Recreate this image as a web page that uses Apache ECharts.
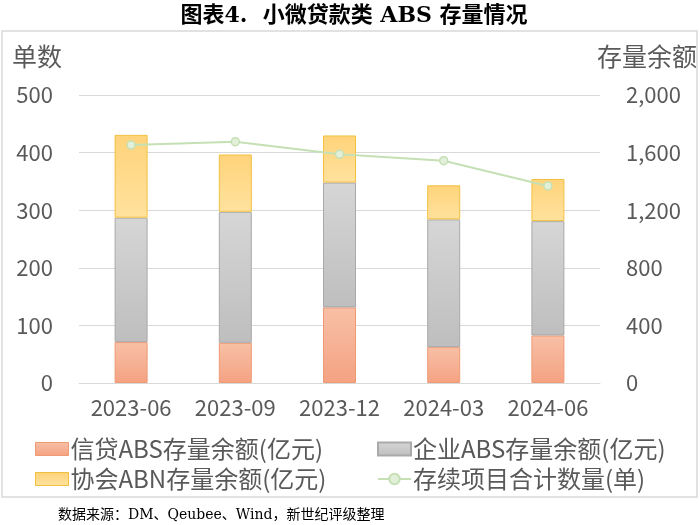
<!DOCTYPE html>
<html><head><meta charset="utf-8">
<script src="https://cdn.jsdelivr.net/npm/echarts@6/dist/echarts.min.js"></script>
<style>html,body{margin:0;padding:0;background:#fff}#c{width:700px;height:525px}</style>
</head><body><div id="c"></div>
<script>
var categories = ['2023-06','2023-09','2023-12','2024-03','2024-06'];
var creditABS = [284, 279, 525, 249, 330];
var corpABS = [864, 910, 867, 887, 794];
var assocABN = [575, 398, 327, 237, 293];
var dealCount = [413, 419, 397, 386, 342];
var leftTicks = {min:0, max:500, interval:100};
var rightTicks = {min:0, max:2000, interval:400};

var font = '"Noto Sans CJK SC", "Noto Sans", sans-serif';
var serif = '"DejaVu Serif", "Noto Sans CJK SC", serif';
function grad(top, bottom){
  return new echarts.graphic.LinearGradient(0,0,0,1,[{offset:0,color:top},{offset:1,color:bottom}]);
}
var chart = echarts.init(document.getElementById('c'));
chart.setOption({
  animation:false,
  backgroundColor:'#fff',
  title:{text:'图表4.  小微贷款类 ABS 存量情况', left:349, textAlign:'center', top:0,
    textStyle:{fontFamily:serif, fontSize:22, fontWeight:'bold', color:'#000'}},
  graphic:[
    {type:'rect', shape:{x:2,y:31,width:695,height:466}, style:{fill:'none', stroke:'#D9D9D9', lineWidth:1.5}, silent:true},
    {type:'text', left:58, top:508, style:{text:'数据来源：DM、Qeubee、Wind，新世纪评级整理', font:'14px ' + serif, fill:'#000'}}
  ],
  grid:{left:79, right:100, top:95, bottom:142},
  legend:[
    {left:30, top:432, orient:'vertical', itemGap:6, itemWidth:33, itemHeight:13, itemStyle:{borderWidth:1},
     textStyle:{fontFamily:font, fontSize:24, color:'#595959', padding:[0,0,0,-3]},
     data:[{name:'信贷ABS存量余额(亿元)', icon:'rect'},{name:'协会ABN存量余额(亿元)', icon:'rect'}]},
    {left:372, top:432, orient:'vertical', itemGap:6, itemWidth:33, itemHeight:13,
     textStyle:{fontFamily:font, fontSize:24, color:'#595959', padding:[0,0,0,-3]},
     data:[{name:'企业ABS存量余额(亿元)', icon:'rect'},'存续项目合计数量(单)']}
  ],
  xAxis:{type:'category', data:categories,
    axisLine:{lineStyle:{color:'#D9D9D9'}}, axisTick:{show:false},
    axisLabel:{fontFamily:font, fontSize:22, color:'#595959', margin:14, interval:0}},
  yAxis:[
    {type:'value', min:leftTicks.min, max:leftTicks.max, interval:leftTicks.interval,
     name:'单数', nameLocation:'end', nameGap:26,
     nameTextStyle:{fontFamily:font, fontSize:25, color:'#595959', align:'left', padding:[0,0,0,-67]},
     axisLine:{show:false}, axisTick:{show:false},
     axisLabel:{fontFamily:font, fontSize:22, color:'#595959', margin:26},
     splitLine:{lineStyle:{color:'#D9D9D9'}}},
    {type:'value', min:rightTicks.min, max:rightTicks.max, interval:rightTicks.interval,
     name:'存量余额', nameLocation:'end', nameGap:26,
     nameTextStyle:{fontFamily:font, fontSize:25, color:'#595959', align:'right', padding:[0,-97,0,0]},
     axisLine:{show:false}, axisTick:{show:false},
     axisLabel:{fontFamily:font, fontSize:22, color:'#595959', margin:26,
       formatter:function(v){return v.toLocaleString('en-US');}},
     splitLine:{show:false}}
  ],
  series:[
    {name:'信贷ABS存量余额(亿元)', type:'bar', stack:'s', yAxisIndex:1, barWidth:33, data:creditABS,
     itemStyle:{color:grad('#F8C0A6','#F4A282'), borderColor:'#EE9A74', borderWidth:1}},
    {name:'企业ABS存量余额(亿元)', type:'bar', stack:'s', yAxisIndex:1, barWidth:33, data:corpABS,
     itemStyle:{color:grad('#D6D6D6','#BEBEBE'), borderColor:'#A9A9A9', borderWidth:1}},
    {name:'协会ABN存量余额(亿元)', type:'bar', stack:'s', yAxisIndex:1, barWidth:33, data:assocABN,
     itemStyle:{color:grad('#FFD37A','#FFE29E'), borderColor:'#F2C040', borderWidth:1}},
    {name:'存续项目合计数量(单)', type:'line', yAxisIndex:0, data:dealCount,
     symbol:'circle', symbolSize:8, z:5,
     lineStyle:{color:'#C5E0B4', width:2},
     itemStyle:{color:'#E2F0D9', borderColor:'#C5E0B4', borderWidth:1.5}}
  ]
});
</script></body></html>
